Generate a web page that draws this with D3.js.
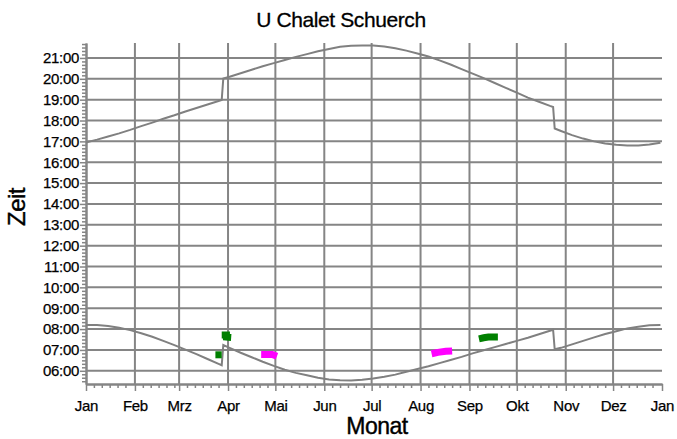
<!DOCTYPE html>
<html>
<head>
<meta charset="utf-8">
<script src="https://cdn.jsdelivr.net/npm/d3@7"></script>
<style>
  html, body { margin: 0; padding: 0; background: #ffffff; }
  svg { display: block; }
  text { font-family: "Liberation Sans", Arial, sans-serif; fill: #000; }
</style>
</head>
<body>
<svg id="chart" width="677" height="439"></svg>
<script>
// Titles and tick labels
const chartTitle = "U Chalet Schuerch";
const xTitle = "Monat";
const yTitle = "Zeit";
const monthLabels = ["Jan", "Feb", "Mrz", "Apr", "Mai", "Jun", "Jul", "Aug", "Sep", "Okt", "Nov", "Dez", "Jan"];
const hourLabels = ["06:00", "07:00", "08:00", "09:00", "10:00", "11:00", "12:00", "13:00",
                    "14:00", "15:00", "16:00", "17:00", "18:00", "19:00", "20:00", "21:00"];

// Sunrise / sunset over the year (local clock time, summer time from end of March to end of October)
const dayDates = [
  "2015-01-01", "2015-01-08", "2015-01-15", "2015-01-22", "2015-01-29",
  "2015-02-05", "2015-02-12", "2015-02-19", "2015-02-26",
  "2015-03-05", "2015-03-12", "2015-03-19", "2015-03-26", "2015-03-28", "2015-03-29",
  "2015-04-02", "2015-04-09", "2015-04-16", "2015-04-23", "2015-04-30",
  "2015-05-07", "2015-05-14", "2015-05-21", "2015-05-28",
  "2015-06-04", "2015-06-11", "2015-06-18", "2015-06-25",
  "2015-07-02", "2015-07-09", "2015-07-16", "2015-07-23", "2015-07-30",
  "2015-08-06", "2015-08-13", "2015-08-20", "2015-08-27",
  "2015-09-03", "2015-09-10", "2015-09-17", "2015-09-24",
  "2015-10-01", "2015-10-08", "2015-10-15", "2015-10-22", "2015-10-24", "2015-10-25", "2015-10-29",
  "2015-11-05", "2015-11-12", "2015-11-19", "2015-11-26",
  "2015-12-03", "2015-12-10", "2015-12-17", "2015-12-24", "2015-12-31"
];
const sunriseTimes = [
  "08:12", "08:12", "08:09", "08:04", "07:57",
  "07:48", "07:38", "07:26", "07:14",
  "07:01", "06:48", "06:34", "06:20", "06:16", "07:14",
  "07:06", "06:52", "06:39", "06:26", "06:14",
  "06:03", "05:54", "05:47", "05:40",
  "05:35", "05:33", "05:32", "05:34",
  "05:38", "05:43", "05:49", "05:57", "06:05",
  "06:13", "06:22", "06:31", "06:40",
  "06:50", "06:59", "07:08", "07:17",
  "07:26", "07:35", "07:45", "07:55", "07:58", "07:02", "07:06",
  "07:16", "07:26", "07:36", "07:46",
  "07:54", "08:02", "08:07", "08:11", "08:12"
];
const sunsetTimes = [
  "16:57", "17:05", "17:14", "17:23", "17:33",
  "17:44", "17:54", "18:05", "18:15",
  "18:26", "18:36", "18:46", "18:56", "18:59", "20:01",
  "20:06", "20:16", "20:26", "20:36", "20:45",
  "20:54", "21:03", "21:11", "21:19",
  "21:26", "21:32", "21:35", "21:36",
  "21:36", "21:33", "21:28", "21:21", "21:13",
  "21:04", "20:53", "20:41", "20:28",
  "20:15", "20:02", "19:48", "19:34",
  "19:20", "19:06", "18:54", "18:42", "18:39", "17:37", "17:30",
  "17:18", "17:08", "17:00", "16:54",
  "16:50", "16:48", "16:48", "16:51", "16:56"
];

// Short observation stretches (date, time)
const greenMarks = [
  [["2015-03-24", "06:46"], ["2015-03-28", "06:46"]],
  [["2015-03-28", "07:43"], ["2015-03-31", "07:43"], ["2015-03-31", "07:37"], ["2015-04-03", "07:36"]],
  [["2015-09-07", "07:32"], ["2015-09-10", "07:35"], ["2015-09-13", "07:37"], ["2015-09-19", "07:37"]]
];
const magentaMarks = [
  [["2015-04-22", "06:47"], ["2015-04-29", "06:47"], ["2015-05-02", "06:42"]],
  [["2015-08-08", "06:49"], ["2015-08-12", "06:53"], ["2015-08-17", "06:56"], ["2015-08-21", "06:57"]]
];

const parseDay = d3.timeParse("%Y-%m-%d");
const toHours = s => { const [h, m] = s.split(":").map(Number); return h + m / 60; };

const svg = d3.select("#chart");
const plotLeft = 86, plotRight = 662, plotTop = 43, plotBottom = 384;
const gridColor = "#858585";

const x = d3.scaleTime()
  .domain([new Date(2015, 0, 1), new Date(2016, 0, 1)])
  .range([plotLeft, plotRight]);
const y = d3.scaleLinear()
  .domain([5 + 22 / 60, 21 + 43 / 60])
  .range([plotBottom, plotTop]);

const monthStarts = d3.range(13).map(i => new Date(2015, i, 1));
const hourValues = hourLabels.map(toHours);

// Grid
const grid = svg.append("g");
grid.selectAll("line.h").data(hourValues).join("line")
  .attr("x1", plotLeft).attr("x2", plotRight)
  .attr("y1", d => y(d)).attr("y2", d => y(d))
  .attr("stroke", gridColor).attr("stroke-width", 2);
grid.selectAll("line.v").data(monthStarts.slice(1, 12)).join("line")
  .attr("x1", d => x(d)).attr("x2", d => x(d))
  .attr("y1", plotTop).attr("y2", plotBottom)
  .attr("stroke", gridColor).attr("stroke-width", 2);

// Minor ticks: every 10 minutes on the time axis, every 5 days on the month axis
const minorHours = d3.range(Math.ceil(y.domain()[0] * 6), Math.floor(y.domain()[1] * 6) + 1)
  .map(k => k / 6).filter(v => Math.abs(v - Math.round(v)) > 1e-6);
const minorDays = [];
for (let m = 0; m < 12; m++) [6, 11, 16, 21, 26].forEach(d => minorDays.push(new Date(2015, m, d)));

function styleAxis(g) {
  g.select(".domain").attr("stroke", gridColor).attr("stroke-width", 2);
  g.selectAll(".tick line").attr("stroke", gridColor).attr("stroke-width", 1.5);
}

svg.append("g").attr("transform", `translate(${plotLeft},0)`)
  .call(d3.axisLeft(y).tickValues(minorHours).tickSize(4).tickSizeOuter(0).tickFormat(""))
  .call(styleAxis);
svg.append("g").attr("transform", `translate(0,${plotBottom})`)
  .call(d3.axisBottom(x).tickValues(minorDays).tickSize(4).tickSizeOuter(0).tickFormat(""))
  .call(styleAxis);

// Major axes with labels
svg.append("g").attr("transform", `translate(${plotLeft},0)`)
  .call(d3.axisLeft(y).tickValues(hourValues).tickSize(6).tickPadding(1).tickSizeOuter(0)
    .tickFormat((d, i) => hourLabels[i]))
  .call(styleAxis)
  .call(g => g.selectAll(".tick text")
    .attr("font-size", 15).attr("font-family", "Liberation Sans, Arial, sans-serif")
    .attr("letter-spacing", -0.3).attr("fill", "#000")
    .attr("stroke", "#000").attr("stroke-width", 0.25));

svg.append("g").attr("transform", `translate(0,${plotBottom})`)
  .call(d3.axisBottom(x).tickValues(monthStarts).tickSize(7).tickPadding(9).tickSizeOuter(0)
    .tickFormat((d, i) => monthLabels[i]))
  .call(styleAxis)
  .call(g => g.selectAll(".tick text")
    .attr("font-size", 15).attr("font-family", "Liberation Sans, Arial, sans-serif")
    .attr("letter-spacing", -0.3).attr("fill", "#000")
    .attr("stroke", "#000").attr("stroke-width", 0.25));

// Sunrise and sunset curves
const line = d3.line().x(d => x(d[0])).y(d => y(d[1]));
const days = dayDates.map(parseDay);
const sunrise = days.map((d, i) => [d, toHours(sunriseTimes[i])]);
const sunset = days.map((d, i) => [d, toHours(sunsetTimes[i])]);
svg.append("g").selectAll("path").data([sunrise, sunset]).join("path")
  .attr("d", line)
  .attr("fill", "none")
  .attr("stroke", "#808080")
  .attr("stroke-width", 2);

// Observation marks
const markLine = d3.line().x(d => x(parseDay(d[0]))).y(d => y(toHours(d[1])));
const marks = svg.append("g");
marks.selectAll("path.g").data(greenMarks).join("path")
  .attr("d", markLine).attr("fill", "none")
  .attr("stroke", "#008000").attr("stroke-width", 7).attr("stroke-linejoin", "miter");
marks.selectAll("path.m").data(magentaMarks).join("path")
  .attr("d", markLine).attr("fill", "none")
  .attr("stroke", "#ff00ff").attr("stroke-width", 7).attr("stroke-linejoin", "miter");

// Titles
svg.append("text").attr("x", 341).attr("y", 27).attr("text-anchor", "middle")
  .attr("font-size", 21).attr("letter-spacing", -0.4)
  .attr("stroke", "#000").attr("stroke-width", 0.3).text(chartTitle);
svg.append("text").attr("x", 377).attr("y", 434).attr("text-anchor", "middle")
  .attr("font-size", 23).attr("letter-spacing", -0.5)
  .attr("stroke", "#000").attr("stroke-width", 0.4).text(xTitle);
svg.append("text").attr("transform", "translate(25,207) rotate(-90)").attr("text-anchor", "middle")
  .attr("font-size", 24).attr("letter-spacing", -0.5)
  .attr("stroke", "#000").attr("stroke-width", 0.4).text(yTitle);
</script>
</body>
</html>
